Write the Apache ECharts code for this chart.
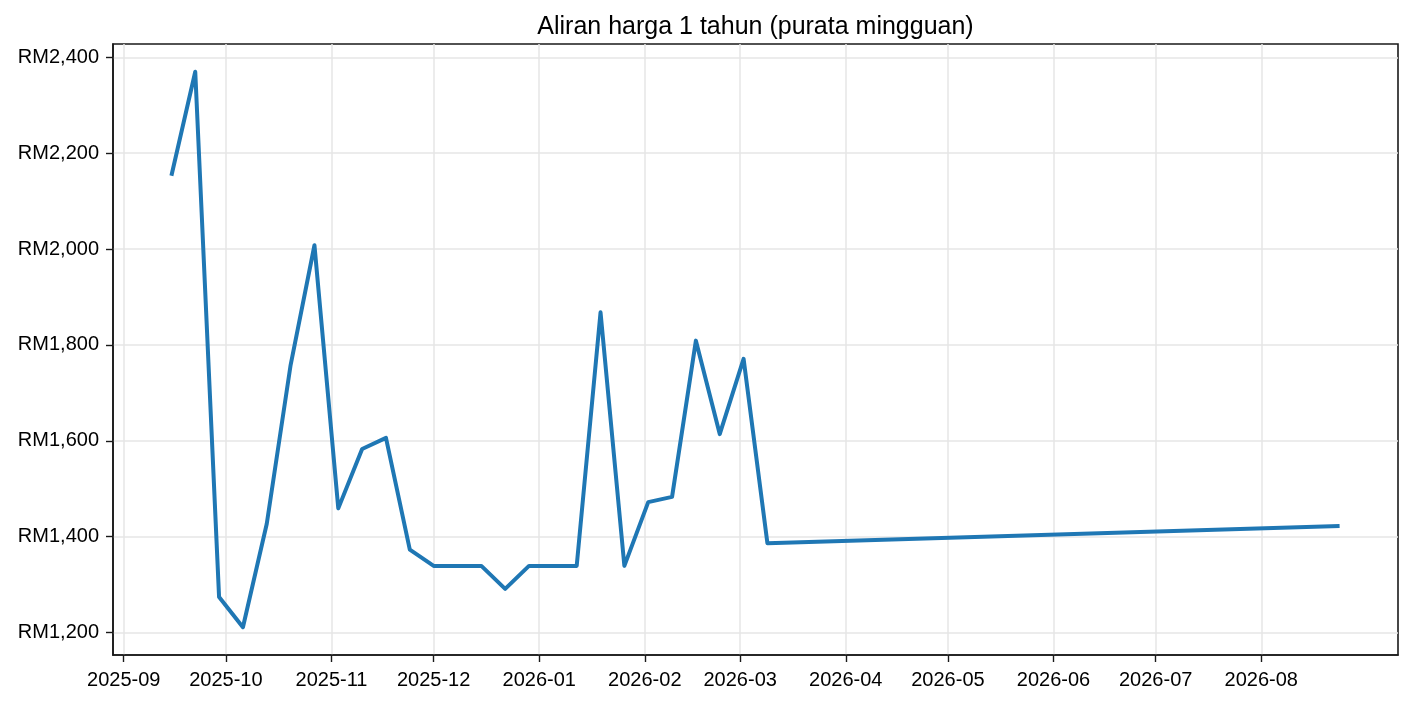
<!DOCTYPE html>
<html>
<head>
<meta charset="utf-8">
<script src="https://cdn.jsdelivr.net/npm/echarts@6/dist/echarts.min.js"></script>
<style>
html,body{margin:0;padding:0;background:#fff;}
#chart{width:1410px;height:704px;}
</style>
</head>
<body>
<div id="chart"></div>
<script>
const titleText = 'Aliran harga 1 tahun (purata mingguan)';
const weeks = ['2025-09-15','2025-09-22','2025-09-29','2025-10-06','2025-10-13','2025-10-20','2025-10-27',
  '2025-11-03','2025-11-10','2025-11-17','2025-11-24','2025-12-01','2025-12-08','2025-12-15','2025-12-22',
  '2025-12-29','2026-01-05','2026-01-12','2026-01-19','2026-01-26','2026-02-02','2026-02-09','2026-02-16',
  '2026-02-23','2026-03-02','2026-03-09','2026-08-24'];
const prices = [2153,2370,1274,1211,1427,1758,2008,1459,1583,1606,1373,1339,1339,1339,1291,1339,1339,1339,
  1868,1339,1472,1483,1809,1614,1771,1386,1422];
const xTickLabels = ['2025-09','2025-10','2025-11','2025-12','2026-01','2026-02','2026-03','2026-04',
  '2026-05','2026-06','2026-07','2026-08'];
const yTicks = [1200,1400,1600,1800,2000,2200,2400];

function parseD(s){const p=s.split('-').map(Number);return new Date(p[0],p[1]-1,p[2]||1).getTime();}
const xs = weeks.map(parseD);
const xTickVals = xTickLabels.map(parseD);
const xSpan = xs[xs.length-1]-xs[0];
const xMin = xs[0]-0.05*xSpan, xMax = xs[xs.length-1]+0.05*xSpan;
const yLo = Math.min(...prices), yHi = Math.max(...prices);
const yMin = yLo-0.05*(yHi-yLo), yMax = yHi+0.05*(yHi-yLo);

const font = "'Liberation Sans', Arial, sans-serif";
const titleSize = 25;
const gridL = 113, gridR = 12;
const cv = document.createElement('canvas').getContext('2d');
cv.font = titleSize + 'px ' + font;
const titleW = cv.measureText(titleText).width;
const titleLeft = gridL + (1410 - gridL - gridR)/2 - titleW/2;

function fmtMonth(v){const d=new Date(v);return d.getFullYear()+'-'+String(d.getMonth()+1).padStart(2,'0');}

const chart = echarts.init(document.getElementById('chart'), null, {renderer:'canvas'});
chart.setOption({
  animation:false,
  backgroundColor:'#fff',
  title:{text:titleText,left:titleLeft,top:15,padding:0,
    textStyle:{fontFamily:font,fontSize:titleSize,fontWeight:'normal',color:'#000'}},
  grid:{left:gridL,right:gridR,top:44,bottom:49,show:true,borderColor:'#1a1a1a',borderWidth:1.6,backgroundColor:'transparent'},
  xAxis:{type:'value',min:xMin,max:xMax,scale:true,
    axisLine:{show:true,lineStyle:{color:'#1a1a1a',width:1.6}},
    axisTick:{show:true,length:7,customValues:xTickVals,lineStyle:{color:'#1a1a1a',width:1.4}},
    axisLabel:{show:true,margin:15,color:'#000',fontFamily:font,fontSize:20,fontWeight:'normal',
      customValues:xTickVals,formatter:fmtMonth},
    splitLine:{show:true,lineStyle:{color:'#e6e6e6',width:1.5}}},
  yAxis:{type:'value',min:yMin,max:yMax,
    axisLine:{show:true,lineStyle:{color:'#1a1a1a',width:1.6}},
    axisTick:{show:true,length:7,customValues:yTicks,lineStyle:{color:'#1a1a1a',width:1.4}},
    axisLabel:{show:true,margin:14,color:'#000',fontFamily:font,fontSize:20,customValues:yTicks,
      padding:[4,0,0,0],
      formatter:function(v){return 'RM'+Math.round(v).toLocaleString('en-US');}},
    splitLine:{show:true,lineStyle:{color:'#e6e6e6',width:1.5}}},
  series:[{type:'line',data:xs.map((x,i)=>[x,prices[i]]),showSymbol:false,symbol:'none',
    lineStyle:{color:'#1f77b4',width:4,join:'round'},itemStyle:{color:'#1f77b4'}}]
});
</script>
</body>
</html>
